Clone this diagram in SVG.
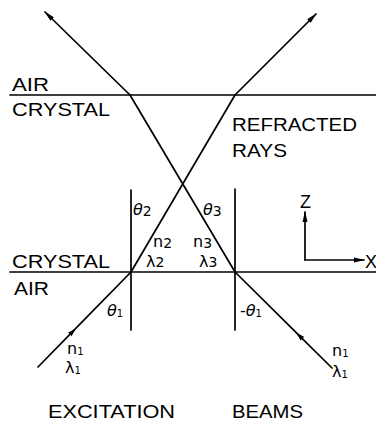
<svg xmlns="http://www.w3.org/2000/svg" width="376" height="422" viewBox="0 0 376 422">
<style>
.ln{stroke:#000;stroke-width:1.7;fill:none;stroke-linecap:round}
.lb{font-family:"Liberation Sans",Arial,sans-serif;font-size:18px;fill:#000}
.gr{font-family:"DejaVu Sans","Liberation Sans",sans-serif;font-size:16px;fill:#000}
.th{font-style:italic}
.sb{font-size:14px}
.s1{font-size:10px}
</style>
<defs>
<marker id="ah" markerUnits="userSpaceOnUse" markerWidth="11" markerHeight="6" viewBox="0 0 11 6" refX="10" refY="3" orient="auto">
<path d="M0,0.5 L11,3 L0,5.5 z" fill="#000"/>
</marker>
<marker id="am" markerUnits="userSpaceOnUse" markerWidth="9" markerHeight="6" viewBox="0 0 9 6" refX="9" refY="3" orient="auto">
<path d="M0,0.5 L9,3 L0,5.5 z" fill="#000"/>
</marker>
</defs>
<g id="interfaces">
<line class="ln" x1="10" y1="95" x2="376" y2="95"/>
<line class="ln" x1="10" y1="272" x2="376" y2="272"/>
</g>
<g id="normals">
<line class="ln" x1="131" y1="190" x2="131" y2="330"/>
<line class="ln" x1="235" y1="189" x2="235" y2="330"/>
</g>
<g id="connectors">
<line class="ln" x1="130" y1="95" x2="45" y2="12" marker-end="url(#ah)"/>
<line class="ln" x1="235" y1="95" x2="316" y2="14" marker-end="url(#ah)"/>
<line class="ln" x1="130" y1="95" x2="235" y2="272"/>
<line class="ln" x1="235" y1="95" x2="131" y2="272"/>
<path class="ln" d="M38,367 L76,328.2 L131,272" marker-mid="url(#am)"/>
<path class="ln" d="M332,368 L296,332.4 L235,272" marker-mid="url(#am)"/>
</g>
<g id="axes">
<line class="ln" x1="305" y1="260" x2="305" y2="212" marker-end="url(#ah)"/>
<line class="ln" x1="305" y1="260" x2="364" y2="260" marker-end="url(#ah)"/>
<text class="lb" x="300" y="208">Z</text>
<text class="lb" x="365" y="268">X</text>
</g>
<g id="labels">
<text class="lb" x="12" y="91" textLength="37" lengthAdjust="spacingAndGlyphs">AIR</text>
<text class="lb" x="12" y="116" textLength="98" lengthAdjust="spacingAndGlyphs">CRYSTAL</text>
<text class="lb" x="232" y="131" textLength="125" lengthAdjust="spacingAndGlyphs">REFRACTED</text>
<text class="lb" x="232" y="157" textLength="55" lengthAdjust="spacingAndGlyphs">RAYS</text>
<text class="lb" x="12" y="268" textLength="98" lengthAdjust="spacingAndGlyphs">CRYSTAL</text>
<text class="lb" x="14" y="295" textLength="35" lengthAdjust="spacingAndGlyphs">AIR</text>
<text class="lb" x="48" y="418" textLength="127" lengthAdjust="spacingAndGlyphs">EXCITATION</text>
<text class="lb" x="232" y="418" textLength="71" lengthAdjust="spacingAndGlyphs">BEAMS</text>
</g>
<g id="symbols">
<text class="gr" x="133" y="215"><tspan class="th">θ</tspan><tspan class="sb" dy="1">2</tspan></text>
<text class="gr" x="203" y="215"><tspan class="th">θ</tspan><tspan class="sb" dy="1">3</tspan></text>
<text class="gr" x="153" y="247">n<tspan class="sb" dy="1">2</tspan></text>
<text class="gr" x="146" y="267">λ<tspan class="sb">2</tspan></text>
<text class="gr" x="193" y="247">n<tspan class="sb" dy="1">3</tspan></text>
<text class="gr" x="199" y="267">λ<tspan class="sb">3</tspan></text>
<text class="gr" x="107" y="316"><tspan class="th">θ</tspan><tspan class="s1" dy="1">1</tspan></text>
<text class="gr" x="240" y="316">-<tspan class="th">θ</tspan><tspan class="s1" dy="1">1</tspan></text>
<text class="gr" x="67" y="354">n<tspan class="s1" dy="1">1</tspan></text>
<text class="gr" x="65" y="373">λ<tspan class="s1" dy="1">1</tspan></text>
<text class="gr" x="332" y="356">n<tspan class="s1" dy="1">1</tspan></text>
<text class="gr" x="332" y="377">λ<tspan class="s1" dy="1">1</tspan></text>
</g>
</svg>
